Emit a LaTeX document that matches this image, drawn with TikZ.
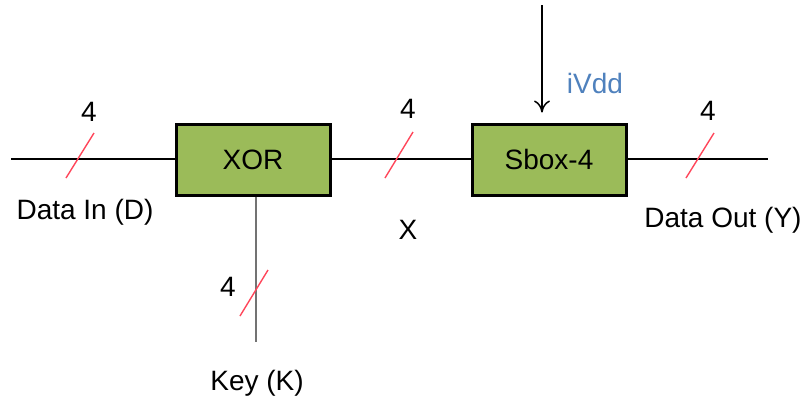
\documentclass[tikz,border=0pt]{standalone}
\usepackage{fontspec}
\setmainfont{Liberation Sans}
\usetikzlibrary{arrows.meta}
\definecolor{verde}{RGB}{155,187,89}
\definecolor{rojo}{RGB}{255,70,90}
\definecolor{azul}{RGB}{79,129,189}
\tikzset{
  bloque/.style={draw=black, line width=1.5pt, fill=verde, minimum width=77pt, minimum height=35.5pt, inner sep=0pt},
  texto/.style={inner sep=0pt, font=\fontsize{14}{16}\selectfont},
  barra/.style={draw=rojo, line width=0.7pt},
  linea/.style={draw=black, line width=0.75pt}
}
\begin{document}
\begin{tikzpicture}[x=0.5pt, y=-0.5pt]
    \useasboundingbox (0,0) rectangle (810,403);

    % Bloques
    \node[bloque, texto] (xor) at (253,159.5) {XOR};
    \node[bloque, texto] (sbox) at (549,159.5) {Sbox-4};

    % Extremos libres
    \coordinate (din) at (11,159);
    \coordinate (dout) at (768,159);
    \coordinate (kend) at (256,342);
    \coordinate (vdd) at (542,5);

    % Conexiones
    \draw[linea] (din) -- (din -| xor.west);
    \draw[linea] (xor.east |- din) -- (sbox.west |- din);
    \draw[linea] (sbox.east |- dout) -- (dout);
    \draw[draw=black!55, line width=1.1pt] (kend |- xor.south) -- (kend);
    \draw[linea, -{To[length=6pt, width=8pt]}, shorten >=5pt] (vdd) -- (vdd |- sbox.north);

    % Barras de 4 bits
    \draw[barra] (66,178) -- ++(28,-45);
    \draw[barra] (385,178) -- ++(28,-46);
    \draw[barra] (686,178) -- ++(28,-45);
    \draw[barra] (240,316) -- ++(28,-46);

    % Etiquetas
    \node[texto] (n1) at (89,112) {4};
    \node[texto] (n2) at (408,109) {4};
    \node[texto] (n3) at (708,111) {4};
    \node[texto] (n4) at (228,287) {4};
    \node[texto] (ldin) at (85,212) {Data In (D)};
    \node[texto] (lx) at (408,230) {X};
    \node[texto] (ldout) at (723,220) {Data Out (Y)};
    \node[texto] (lkey) at (257,383) {Key (K)};
    \node[texto, text=azul] (lvdd) at (595,83) {iVdd};
\end{tikzpicture}
\end{document}
